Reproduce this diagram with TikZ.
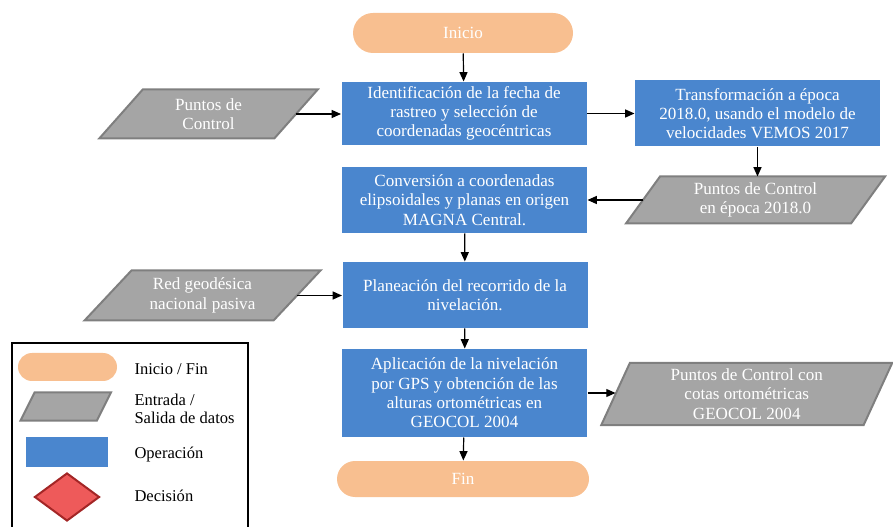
\documentclass[tikz,border=0pt]{standalone}
\usepackage{fontspec}
\setmainfont{Liberation Serif}
\usetikzlibrary{arrows.meta,shapes.geometric,backgrounds}

\definecolor{terminalFill}{HTML}{F8BF90}
\definecolor{procesoFill}{HTML}{4A86CE}
\definecolor{datosFill}{HTML}{A5A5A5}
\definecolor{datosDraw}{HTML}{7F7F7F}
\definecolor{decisionFill}{HTML}{EE5A5A}
\definecolor{decisionDraw}{HTML}{A32626}

\tikzset{every picture/.style={line width=0.75pt}}
\tikzset{
  terminal/.style={rectangle,rounded corners=13.5pt,fill=terminalFill,text=white,
    minimum width=189pt,minimum height=27pt,inner sep=0.75pt,font=\fontsize{12.8}{14.5}\selectfont},
  proceso/.style={rectangle,fill=procesoFill,text=white,align=center,
    minimum width=183.75pt,minimum height=49.5pt,inner sep=0.75pt,font=\fontsize{12.8}{14.5}\selectfont},
  % parallelogram drawn behind a plain node, #1 = half of the slant
  datos/.style={rectangle,text=white,align=center,inner sep=0.75pt,font=\fontsize{12.8}{14.5}\selectfont,
    append after command={\pgfextra{\begin{pgfonlayer}{background}
      \filldraw [fill=datosFill,draw=datosDraw,line width=1.5pt]
        ([xshift=-#1]\tikzlastnode.south west) -- ([xshift=#1]\tikzlastnode.north west)
        -- ([xshift=#1]\tikzlastnode.north east) -- ([xshift=-#1]\tikzlastnode.south east) -- cycle;
      \end{pgfonlayer}}}},
  flecha/.style={-{Triangle[length=7pt,width=6pt]},line width=0.9pt},
  leyenda/.style={anchor=west,inner sep=0.75pt,align=left,font=\fontsize{12.4}{13.5}\selectfont}
}

\begin{document}
\begin{tikzpicture}[x=0.75pt,y=0.75pt,yscale=-1,xscale=1]
    \useasboundingbox (0,0) rectangle (893,527);

    %Flowchart: Terminator
    \draw (463,33) node [terminal,minimum width=165pt,minimum height=30pt,rounded corners=15pt] (inicio) {Inicio};
    %Flowchart: Process
    \draw (464,113.5) node [proceso,minimum height=47.25pt] (ident) {Identificación de la fecha de\\rastreo y selección de\\coordenadas geocéntricas};
    %Flowchart: Data
    \draw (208.5,114) node [datos=16.3pt,minimum width=130.5pt,minimum height=36pt] (puntos) {Puntos de\\Control};
    %Flowchart: Process
    \draw (757.5,113.5) node [proceso] (transf) {Transformación a época\\2018.0, usando el modelo de\\velocidades VEMOS 2017};
    %Flowchart: Data
    \draw (755.5,200) node [datos=12.75pt,minimum width=168pt,minimum height=34.5pt] (epoca) {Puntos de Control\\en época 2018.0};
    %Flowchart: Process
    \draw (464.5,200) node [proceso] (conv) {Conversión a coordenadas\\elipsoidales y planas en origen\\MAGNA Central.};
    %Flowchart: Process
    \draw (465,295) node [proceso] (planea) {Planeación del recorrido de la\\nivelación.};
    %Flowchart: Data
    \draw (202.5,295.5) node [datos=17.6pt,minimum width=141pt,minimum height=36.75pt] (red) {Red geodésica\\nacional pasiva};
    %Flowchart: Process
    \draw (464.5,393) node [proceso,minimum height=66pt] (aplic) {Aplicación de la nivelación\\por GPS y obtención de las\\alturas ortométricas en\\GEOCOL 2004};
    %Flowchart: Data
    \draw (746.75,394) node [datos=10.7pt,minimum width=196pt,minimum height=45.75pt] (cotas) {Puntos de Control con\\cotas ortométricas\\GEOCOL 2004};
    %Flowchart: Terminator
    \draw (463,479) node [terminal] (fin) {Fin};

    %Straight Lines with Arrows
    \draw [flecha] (inicio) -- (ident);
    \draw [flecha] (puntos.east) -- (puntos.east -| ident.west);
    \draw [flecha] (ident.east) -- (transf.west);
    \draw [flecha] (transf.south) -- (transf.south |- epoca.north);
    \draw [flecha] (epoca.west) -- (conv.east);
    \draw [flecha] (conv) -- (planea);
    \draw [flecha] (red.east) -- (red.east -| planea.west);
    \draw [flecha] (planea) -- (aplic);
    \draw [flecha] (aplic.east) -- (aplic.east -| cotas.west);
    \draw [flecha] (aplic) -- (fin);

    %Legend
    \draw [line width=2pt] (12,530) -- (12,343) -- (248,343) -- (248,530);
    \draw (67.5,367) node [terminal,minimum width=74.25pt,minimum height=21pt,rounded corners=10.5pt] (legTerm) {};
    \draw (65.75,406.5) node [datos=5.25pt,minimum width=56.6pt,minimum height=20.25pt] (legDatos) {};
    \draw (67,452) node [proceso,minimum width=61.5pt,minimum height=22.5pt] (legProc) {};
    \draw (67,497) node [diamond,fill=decisionFill,draw=decisionDraw,line width=1.5pt,inner sep=0pt,minimum width=48.75pt,minimum height=36pt] (legDec) {};
    % Text Node
    \draw (133,369) node [leyenda] (txtTerm) {Inicio / Fin};
    % Text Node
    \draw (133,409) node [leyenda] (txtDatos) {Entrada /\\Salida de datos};
    % Text Node
    \draw (133,455) node [leyenda] (txtProc) {Operación};
    % Text Node
    \draw (133,496) node [leyenda] (txtDec) {Decisión};
\end{tikzpicture}
\end{document}
